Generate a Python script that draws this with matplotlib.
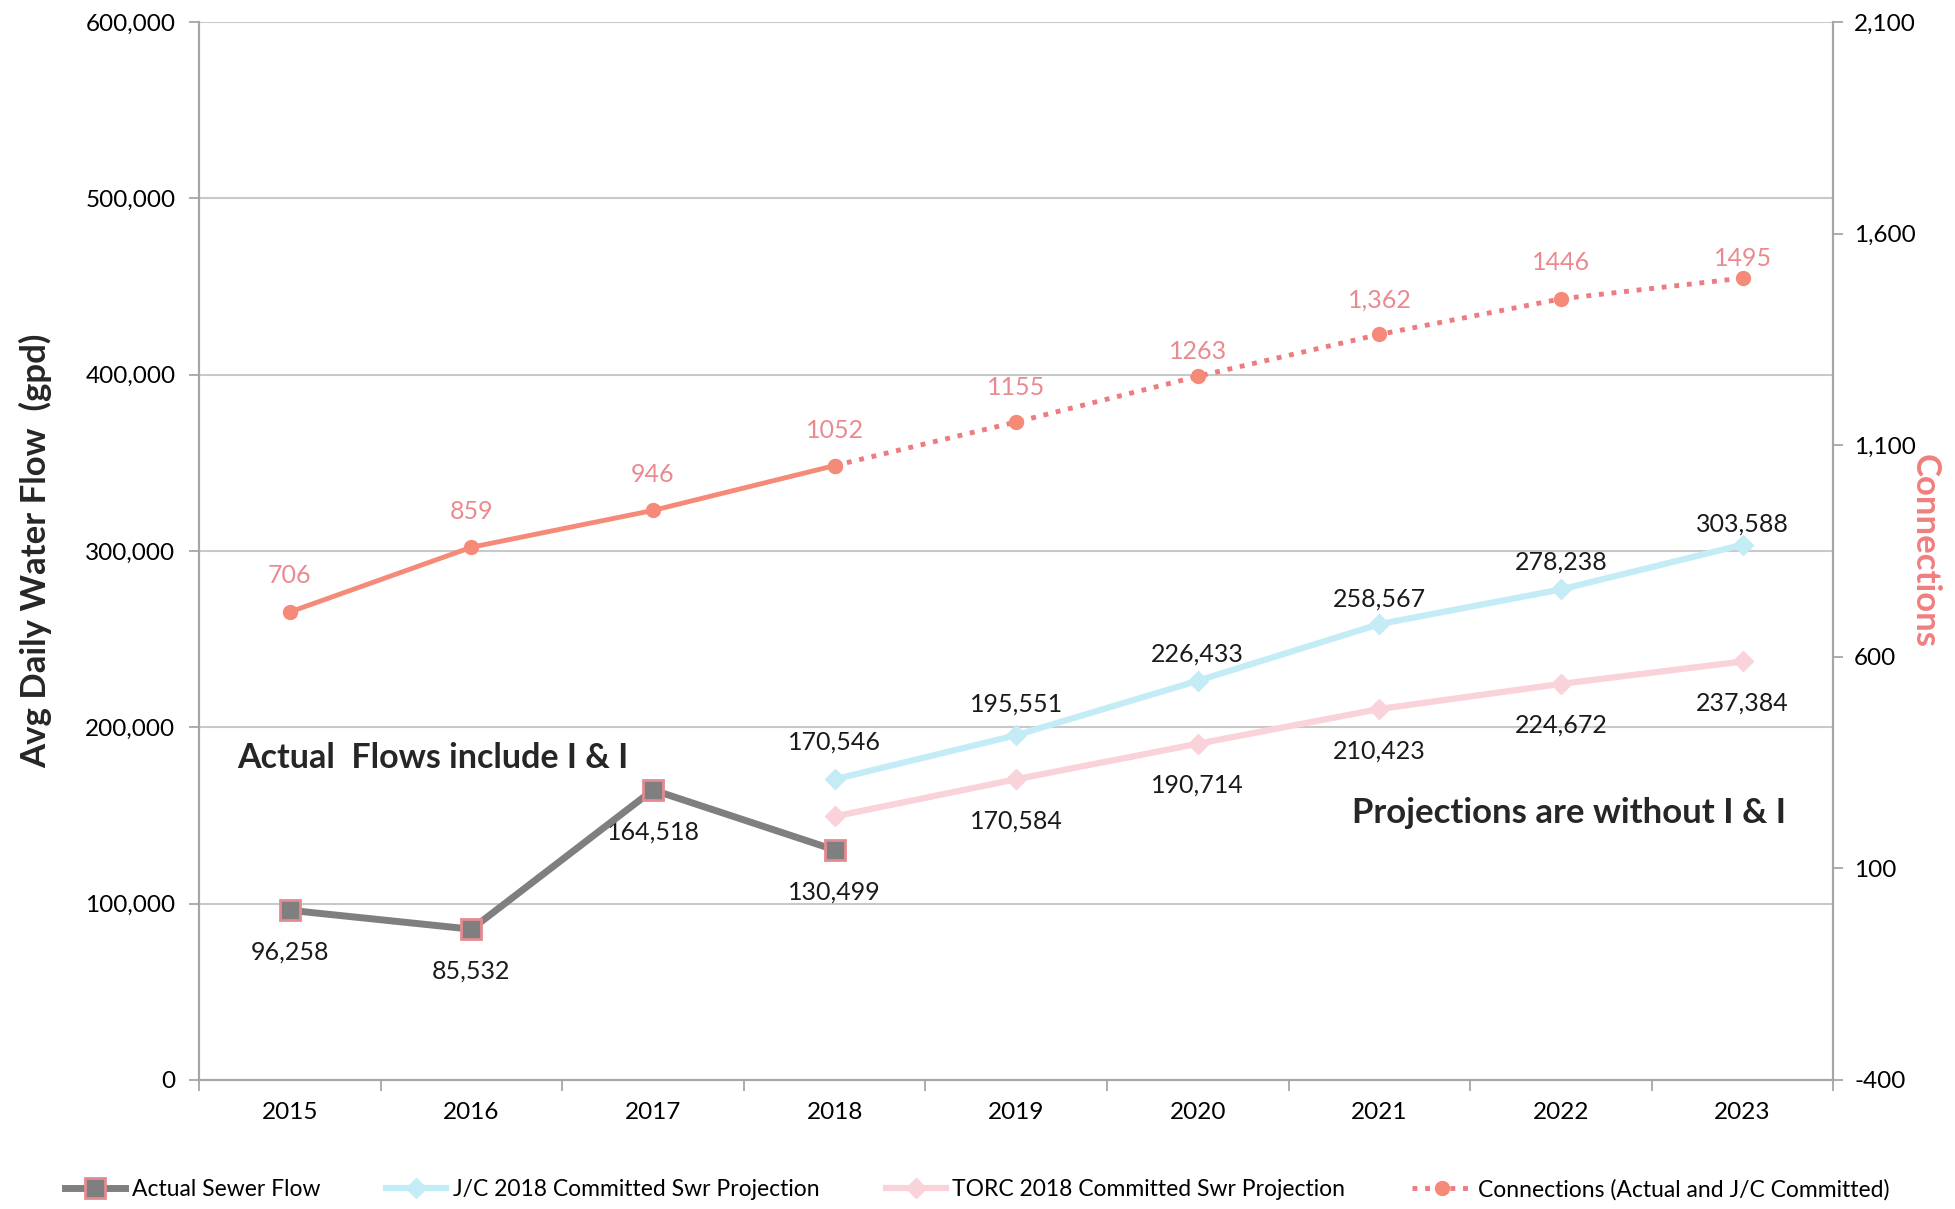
import numpy as np
import matplotlib
matplotlib.use("Agg")
from matplotlib import pyplot as plt
from matplotlib.ticker import FuncFormatter, FixedLocator

plt.rcParams['font.family'] = ['Lato', 'DejaVu Sans']

years = ['2015', '2016', '2017', '2018', '2019', '2020', '2021', '2022', '2023']

# actual sewer flow (gpd), 2015-2018
actual_flow = [96258, 85532, 164518, 130499]
# committed projections, 2018-2023
jc_projection = [170546, 195551, 226433, 258567, 278238, 303588]
torc_projection = [149500, 170584, 190714, 210423, 224672, 237384]
torc_labels = ['', '170,584', '190,714', '210,423', '224,672', '237,384']
# connections, actual through 2018 then J/C committed
connections = [706, 859, 946, 1052, 1155, 1263, 1362, 1446, 1495]
connection_labels = ['706', '859', '946', '1052', '1155', '1263', '1,362', '1446', '1495']

# label offsets above the point (points)
jc_offsets = [27, 22.5, 19, 18, 20, 15]
conn_offsets = [26, 26, 26, 25, 25, 18, 25, 26, 14]

gray = '#7f7f7f'
salmon = '#f58a78'
dots = '#ee7b80'
salmon_txt = '#ea8a90'
cyan = '#c4ecf6'
pink = '#f9d2da'
axis_gray = '#a6a6a6'

x_all = np.arange(len(years))
x_act = x_all[:4]
x_proj = x_all[3:]

fig = plt.figure(figsize=(19.55, 12.09), dpi=100)
ax = fig.add_axes([0.1018, 0.1067, 0.836, 0.875])
ax2 = ax.twinx()

# left axis: flows
ax.plot(x_proj, jc_projection, color=cyan, lw=4.5, marker='D', ms=10,
        mfc=cyan, mec=cyan, label='J/C 2018 Committed Swr Projection', zorder=3)
ax.plot(x_proj, torc_projection, color=pink, lw=4.5, marker='D', ms=10,
        mfc=pink, mec=pink, label='TORC 2018 Committed Swr Projection', zorder=3)
ax.plot(x_act, actual_flow, color=gray, lw=5, marker='s', ms=15,
        mfc=gray, mec='#e58a90', mew=2, label='Actual Sewer Flow', zorder=4)

for xi, v in zip(x_act, actual_flow):
    ax.annotate(f'{v:,}', (xi, v), xytext=(0, -30), textcoords='offset points',
                ha='center', va='center', fontsize=18, color='#1a1a1a')
for xi, v, off in zip(x_proj, jc_projection, jc_offsets):
    ax.annotate(f'{v:,}', (xi, v), xytext=(0, off), textcoords='offset points',
                ha='center', va='center', fontsize=18, color='#1a1a1a')
for xi, v, t in zip(x_proj, torc_projection, torc_labels):
    if t:
        ax.annotate(t, (xi, v), xytext=(0, -30), textcoords='offset points',
                    ha='center', va='center', fontsize=18, color='#1a1a1a')

ax.text(-0.29, 182500, 'Actual  Flows include I & I', fontsize=24.5,
        fontweight='bold', color='#262626', va='center', ha='left')
ax.text(5.85, 151400, 'Projections are without I & I', fontsize=25,
        fontweight='bold', color='#262626', va='center', ha='left')

ax.set_xlim(-0.5, 8.5)
ax.set_ylim(0, 600000)
ax.set_yticks(np.arange(0, 600001, 100000))
ax.yaxis.set_major_formatter(FuncFormatter(lambda v, p: f'{int(v):,}'))
ax.grid(axis='y', color='#c8c8c8', lw=1.5)
ax.set_axisbelow(True)
ax.set_xticks(x_all)
ax.set_xticklabels(years)
ax.xaxis.set_minor_locator(FixedLocator(np.arange(-0.5, 9, 1)))
ax.tick_params(axis='x', which='major', length=0, pad=16, labelsize=17.5)
ax.tick_params(axis='x', which='minor', length=8, width=1.3, color=axis_gray)
ax.tick_params(axis='y', length=7, width=1.3, color=axis_gray, labelsize=17.5, pad=10)
ax.set_ylabel('Avg Daily Water Flow  (gpd)', fontsize=25, fontweight='bold',
              color='#262626', labelpad=24)

# right axis: connections
ax2.plot(x_all[:4], connections[:4], color=salmon, lw=3.5, marker='o', ms=10,
         mfc=salmon, mec=salmon, zorder=3)
ax2.plot(x_all[3:], connections[3:], color=dots, lw=3.5, ls=(0, (1, 1.6)),
         marker='o', ms=10, mfc=salmon, mec=salmon,
         label='Connections (Actual and J/C Committed)', zorder=3)
for xi, v, t, off in zip(x_all, connections, connection_labels, conn_offsets):
    ax2.annotate(t, (xi, v), xytext=(0, off), textcoords='offset points',
                 ha='center', va='center', fontsize=18, color=salmon_txt)

ax2.set_ylim(-400, 2100)
ax2.set_yticks(np.arange(-400, 2101, 500))
ax2.yaxis.set_major_formatter(FuncFormatter(lambda v, p: f'{int(v):,}'))
ax2.tick_params(axis='y', length=7, width=1.3, color=axis_gray, labelsize=17.5, pad=8)
ax2.set_ylabel('Connections', fontsize=25, fontweight='bold', color='#f07f7f',
               rotation=270, labelpad=18)

for a in (ax, ax2):
    a.spines['top'].set_visible(False)
    for s in ('left', 'right', 'bottom'):
        a.spines[s].set_color(axis_gray)
        a.spines[s].set_linewidth(1.5)

h1, l1 = ax.get_legend_handles_labels()
h2, l2 = ax2.get_legend_handles_labels()
order = [2, 0, 1]
handles = [h1[i] for i in order] + h2
labels = [l1[i] for i in order] + l2
fig.legend(handles, labels, loc='center', bbox_to_anchor=(0.5, 0.016), ncol=4,
           frameon=False, fontsize=16.5, handlelength=2.6, columnspacing=2.9,
           handletextpad=0.3)

fig.savefig('out.png', dpi=100, facecolor='white')
